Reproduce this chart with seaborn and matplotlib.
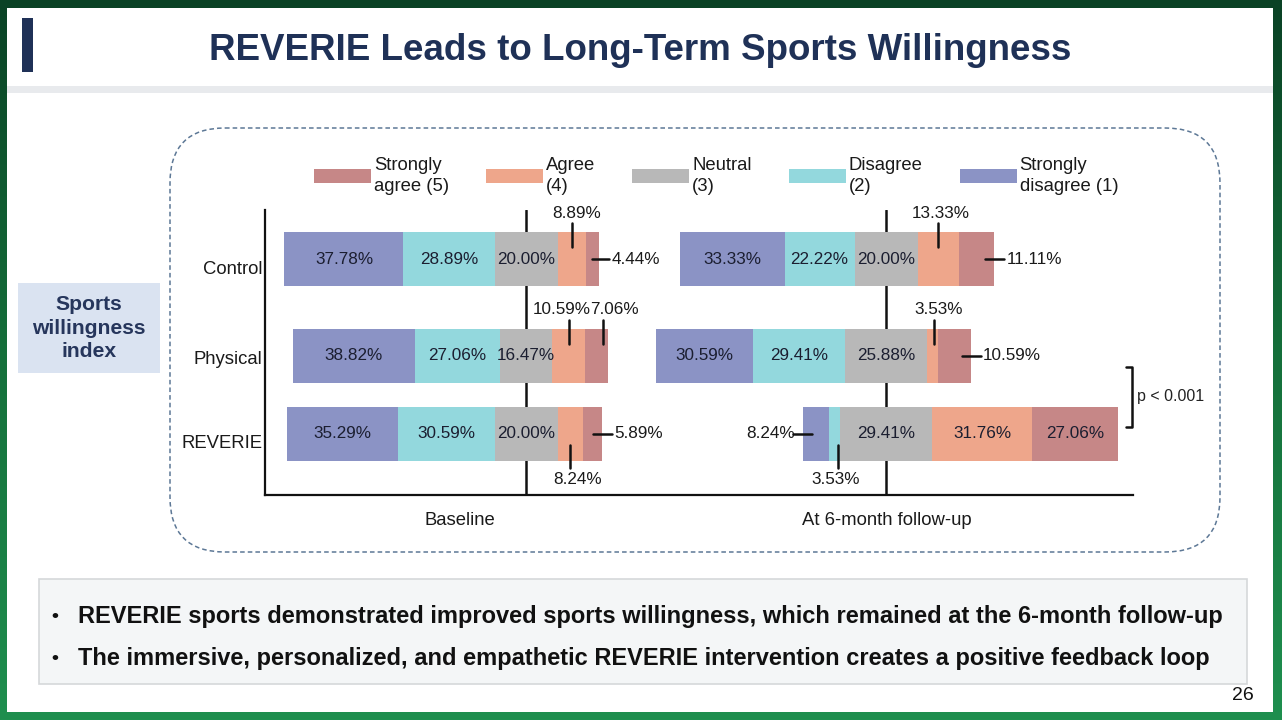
import numpy as np
import pandas as pd
import matplotlib
matplotlib.use("Agg")
import matplotlib.pyplot as plt
import seaborn as sns
from matplotlib.patches import Rectangle, FancyBboxPatch, Patch
from matplotlib.colors import LinearSegmentedColormap

# ---------------- data ----------------
groups = ["Control", "Physical", "REVERIE"]
timepoints = ["Baseline", "At 6-month follow-up"]
legend_labels = ["Strongly\nagree (5)", "Agree\n(4)", "Neutral\n(3)", "Disagree\n(2)", "Strongly\ndisagree (1)"]

baseline_sd = [37.78, 38.82, 35.29]
baseline_d = [28.89, 27.06, 30.59]
baseline_n = [20.00, 16.47, 20.00]
baseline_a = [8.89, 10.59, 8.24]
baseline_sa = [4.44, 7.06, 5.89]

followup_sd = [33.33, 30.59, 8.24]
followup_d = [22.22, 29.41, 3.53]
followup_n = [20.00, 25.88, 29.41]
followup_a = [13.33, 3.53, 31.76]
followup_sa = [11.11, 10.59, 27.06]

p_text = "p < 0.001"
title = "REVERIE Leads to Long-Term Sports Willingness"
side_label = "Sports\nwillingness\nindex"
bullets = [
    "REVERIE sports demonstrated improved sports willingness, which remained at the 6-month follow-up",
    "The immersive, personalized, and empathetic REVERIE intervention creates a positive feedback loop",
]
page_no = "26"

# ---------------- style ----------------
COLORS = ["#8b93c5", "#93d8dd", "#b8b8b8", "#eea68b", "#c68787"]  # SD, D, N, A, SA
NAVY = "#1f3157"

sns.set_theme(style="white")
plt.rcParams["font.family"] = ["Liberation Sans", "DejaVu Sans"]

W, H = 1282, 720
fig = plt.figure(figsize=(W / 100, H / 100), dpi=100)

def fx(px):
    return px / W

def fy(py):
    return 1 - py / H

# background / decoration axes in pixel coordinates
bg = fig.add_axes([0, 0, 1, 1], zorder=-5)
bg.set_xlim(0, W)
bg.set_ylim(H, 0)
bg.axis("off")
cmap = LinearSegmentedColormap.from_list("g", ["#0a4225", "#15703b", "#1f8f4f"])
bg.imshow(np.linspace(0, 1, 256).reshape(-1, 1), extent=[0, W, H, 0], cmap=cmap, aspect="auto")
bg.add_patch(Rectangle((7, 8), 1266, 704, fc="white", ec="none"))
bg.add_patch(Rectangle((22, 18), 11, 54, fc=NAVY, ec="none"))
bg.add_patch(Rectangle((7, 86), 1266, 7, fc="#e8eaed", ec="none"))
bg.add_patch(FancyBboxPatch((170, 128), 1050, 424, boxstyle="round,pad=0,rounding_size=55",
                            fill=False, ec="#5d7896", lw=1.1, ls=(0, (3, 2))))
bg.add_patch(Rectangle((18, 283), 142, 90, fc="#dae3f1", ec="none"))
bg.add_patch(Rectangle((39, 579), 1208, 105, fc="#f4f6f7", ec="#d5d8da", lw=1.2))

bg.text(640, 50, title, ha="center", va="center", fontsize=26.5, fontweight="bold", color=NAVY)
bg.text(89, 328, side_label, ha="center", va="center", fontsize=15.2, fontweight="bold",
        color="#26365c", linespacing=1.3)
for i, b in enumerate(bullets):
    yb = 617 + i * 41
    bg.text(51, yb, "•", ha="left", va="center", fontsize=14, fontweight="bold", color="#111111")
    bg.text(78, yb, b, ha="left", va="center", fontsize=17.05, fontweight="bold", color="#111111")
bg.text(1243, 695, page_no, ha="center", va="center", fontsize=14, color="#111111")

# ---------------- chart axes ----------------
PX = 3.15            # pixels per percent
ROW_Y = [0.0, 0.97, 1.75]
LABEL_Y = [0.09, 0.99, 1.83]
BAR_H = 0.54
CENTERS = [0.0, (886 - 526) / PX]

ax = fig.add_axes([fx(265), fy(495), (1133 - 265) / W, (495 - 210) / H])
ax.set_facecolor("none")

for c in CENTERS:
    ax.axvline(c, color="#111111", lw=1.8, zorder=0)

panels = [
    [baseline_sd, baseline_d, baseline_n, baseline_a, baseline_sa],
    [followup_sd, followup_d, followup_n, followup_a, followup_sa],
]
native_gap = float(np.min(np.diff(ROW_Y)))
geom = {}
for p, segs in enumerate(panels):
    vals = np.array(segs, dtype=float)
    cum = CENTERS[p] - (vals[0] + vals[1] + vals[2] / 2)
    for k in range(5):
        df = pd.DataFrame({"pct": vals[k], "row": ROW_Y})
        sns.barplot(data=df, x="pct", y="row", orient="y", native_scale=True,
                    left=cum.copy(), width=BAR_H / native_gap, color=COLORS[k],
                    saturation=1, linewidth=0, errorbar=None, ax=ax, zorder=2)
        for g in range(3):
            geom[(p, g, k)] = (cum[g], vals[k][g])
        cum = cum + vals[k]

VAL_FS = 12.3
LBL_FS = 13.3
for (p, g, k), (left, w) in geom.items():
    if w >= 15:
        ax.text(left + w / 2, ROW_Y[g], f"{w:.2f}%", ha="center", va="center",
                fontsize=VAL_FS, color="#1b1e30", zorder=4)

# small-segment annotations: (panel, group, level, side, leader dx px, text dx px)
annots = [
    (0, 0, 3, "above", 0, 5),
    (0, 0, 4, "right", 0, 0),
    (0, 1, 3, "above", 0, -7),
    (0, 1, 4, "above", 7, 18),
    (0, 2, 3, "below", 0, 7),
    (0, 2, 4, "right", 0, 0),
    (1, 0, 3, "above", 0, 2),
    (1, 0, 4, "right", 0, 0),
    (1, 1, 3, "above", 2, 6),
    (1, 1, 4, "right", 0, 0),
    (1, 2, 0, "left", 0, 0),
    (1, 2, 1, "below", 4, 2),
]
LW = 1.8
for p, g, k, side, ldx, tdx in annots:
    left, w = geom[(p, g, k)]
    txt = f"{w:.2f}%"
    yc = ROW_Y[g]
    top, bot = yc - BAR_H / 2, yc + BAR_H / 2
    xc = left + w / 2 + ldx / PX
    if side == "above":
        ax.plot([xc, xc], [top - 0.09, top + 0.15], color="#111111", lw=LW, zorder=5, clip_on=False)
        ax.text(xc + (tdx - ldx) / PX, top - 0.19, txt, ha="center", va="center",
                fontsize=VAL_FS, color="#1a1a1a", zorder=5)
    elif side == "below":
        ax.plot([xc, xc], [bot - 0.16, bot + 0.07], color="#111111", lw=LW, zorder=5, clip_on=False)
        ax.text(xc + (tdx - ldx) / PX, bot + 0.18, txt, ha="center", va="center",
                fontsize=VAL_FS, color="#1a1a1a", zorder=5)
    elif side == "right":
        bar_end = geom[(p, g, 4)][0] + geom[(p, g, 4)][1]
        x0 = max(left + w / 2, bar_end - 9 / PX)
        ax.plot([x0, bar_end + 10 / PX], [yc, yc], color="#111111", lw=LW, zorder=5, clip_on=False)
        ax.text(bar_end + 12 / PX, yc, txt, ha="left", va="center",
                fontsize=VAL_FS, color="#1a1a1a", zorder=5)
    else:  # left
        bar_start = geom[(p, g, 0)][0]
        ax.plot([bar_start + 9 / PX, bar_start - 10 / PX], [yc, yc], color="#111111",
                lw=LW, zorder=5, clip_on=False)
        ax.text(bar_start - 8 / PX, yc, txt, ha="right", va="center",
                fontsize=VAL_FS, color="#1a1a1a", zorder=4)

# significance bracket
bx = (1132 - 526) / PX
bx0 = (1126 - 526) / PX
by0, by1 = ROW_Y[1] + 0.11, ROW_Y[2] - 0.07
ax.plot([bx0, bx, bx, bx0], [by0, by0, by1, by1], color="#111111", lw=1.8, clip_on=False)
ax.text((1137 - 526) / PX, (by0 + by1) / 2, p_text, ha="left", va="center",
        fontsize=11.5, color="#222222")

ax.set_xlim((265 - 526) / PX, (1133 - 526) / PX)
ax.set_ylim(2.36, -0.49)
ax.set_yticks(LABEL_Y)
ax.set_yticklabels(groups, fontsize=LBL_FS, color="#1a1a1a")
ax.set_xticks([(460 - 526) / PX, (887 - 526) / PX])
ax.set_xticklabels(timepoints, fontsize=LBL_FS, color="#1a1a1a")
ax.tick_params(axis="both", length=0)
ax.tick_params(axis="y", pad=2)
ax.tick_params(axis="x", pad=12)
ax.set_xlabel("")
ax.set_ylabel("")
for s in ["top", "right"]:
    ax.spines[s].set_visible(False)
for s in ["left", "bottom"]:
    ax.spines[s].set_color("#111111")
    ax.spines[s].set_linewidth(1.6)
ax.grid(False)

# legend
handles = [Patch(facecolor=COLORS[k], edgecolor="none") for k in [4, 3, 2, 1, 0]]
leg = fig.legend(handles, legend_labels, ncol=5, loc="center",
                 bbox_to_anchor=(fx(716), fy(176)), frameon=False, fontsize=LBL_FS,
                 handlelength=3.1, handleheight=0.85, handletextpad=0.15,
                 columnspacing=2.0, borderaxespad=0, borderpad=0)
for t in leg.get_texts():
    t.set_linespacing(1.3)
    t.set_color("#1a1a1a")

fig.savefig("out.png", dpi=100)
